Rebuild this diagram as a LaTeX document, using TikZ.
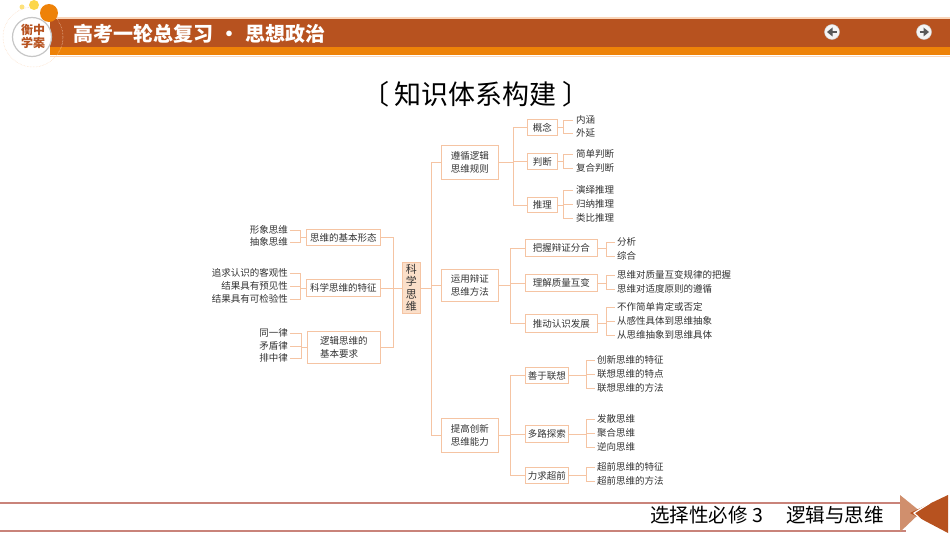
\documentclass[tikz,border=0pt]{standalone}
\usepackage{fontspec}
\setmainfont{Noto Sans CJK SC}
\usepackage{xcolor}
\definecolor{bandbrown}{HTML}{B7521F}
\definecolor{bandorange}{HTML}{EE8208}
\definecolor{bandlight}{HTML}{FAD6BA}
\definecolor{linkc}{HTML}{F5C4A3}
\definecolor{centerc}{HTML}{FBDFC9}
\definecolor{textc}{HTML}{333333}
\definecolor{footc}{HTML}{C9837A}
\tikzset{
 box/.style={draw=linkc,line width=0.9pt,inner sep=0pt,anchor=north west,text=textc,font=\fontsize{9.5}{13.5}\selectfont,align=center},
 leafl/.style={anchor=west,inner sep=0pt,text=textc,font=\fontsize{9.5}{11}\selectfont},
 leafr/.style={anchor=east,inner sep=0pt,text=textc,font=\fontsize{9.5}{11}\selectfont},
 link/.style={draw=linkc,line width=0.9pt},
}
\newcommand{\boxat}[6]{% name, x1, y1, x2, y2, text
 \pgfmathsetmacro{\bw}{#4-#2}\pgfmathsetmacro{\bh}{#5-#3}
 \node[box,minimum width=\bw pt,minimum height=\bh pt] (#1) at (#2,#3) {#6};
}
\begin{document}
\begin{tikzpicture}[x=1pt,y=-1pt]
\useasboundingbox (0,0) rectangle (950,535);

%header
\fill[bandlight] (50,17) rectangle (950,19);
\fill[bandbrown] (50,19) rectangle (950,47);
\fill[bandorange] (50,47) rectangle (950,55);
\fill[bandlight] (50,56) rectangle (950,57.5);
\draw[bandlight,densely dotted,line width=0.5pt] (33,37) circle (30);
\fill[bandorange] (49,13) circle (9);
\fill[yellow!60!orange!70] (34,5) circle (5);
\fill[yellow!60!orange!50] (22,7) circle (2.5);
\draw[gray!45,fill=white,line width=1.2pt] (32,37) circle (19.5);
\node[inner sep=0pt,align=center,text=bandbrown,font=\fontsize{12}{13}\selectfont\bfseries] (logo) at (33,36) {衡中\\学案};
\node[inner sep=0pt,anchor=west,text=white,font=\fontsize{20}{22}\selectfont\bfseries] (head) at (73,34) {高考一轮总复习\hspace{0.3em}·\hspace{0.3em}思想政治};
\foreach \x/\d in {832/-1,924/1} {
 \draw[gray!40,fill=gray!8] (\x,32) circle (7.5);
 \draw[gray!70!black,line width=1.6pt] (\x-\d*4.5,32) -- (\x+\d*3,32);
 \fill[gray!70!black] (\x-\d*0.5,27.5) -- (\x+\d*5,32) -- (\x-\d*0.5,36.5) -- cycle;
}

%title
\node[inner sep=0pt,font=\fontsize{27}{29}\selectfont] (title) at (476,94) {〔\hspace{0.2em}知识体系构建\hspace{0.2em}〕};

%footer
\draw[footc,line width=1.2pt] (0,503) -- (906,503);
\draw[footc,line width=1.8pt] (0,531) -- (906,531);
\node[inner sep=0pt,anchor=west,text=black,font=\fontsize{19.5}{21}\selectfont] (foot) at (650,515) {选择性必修 3\hspace{1.2em}逻辑与思维};
\fill[bandbrown!65!white] (900,495) -- (921,512) -- (900,532) -- cycle;
\fill[bandbrown] (948,495) -- (910,513) -- (948,533) -- cycle;
\draw[white,line width=1.2pt] (930,503) -- (914,513) -- (932,530);

%center
\node[box,fill=centerc,minimum width=18pt,minimum height=51pt,font=\fontsize{11}{12.4}\selectfont] (kxsw) at (402,262) {科\\学\\思\\维};

%left side
\boxat{xt}{306}{229}{380}{245}{思维的基本形态}
\boxat{tz}{306}{279}{380}{296}{科学思维的特征}
\boxat{yq}{307}{331}{380}{363}{逻辑思维的\\基本要求\phantom{的}}
\foreach \b in {xt,tz,yq} \draw[link] (kxsw.west) -- ++(-9,0) |- (\b.east);

\node[leafr] (xt1) at (288,230) {形象思维};
\node[leafr] (xt2) at (288,242) {抽象思维};
\node[leafr] (tz1) at (288,273) {追求认识的客观性};
\node[leafr] (tz2) at (288,286) {结果具有预见性};
\node[leafr] (tz3) at (288,299) {结果具有可检验性};
\node[leafr] (yq1) at (288,333) {同一律};
\node[leafr] (yq2) at (288,346) {矛盾律};
\node[leafr] (yq3) at (288,358) {排中律};
\foreach \b/\l in {xt/xt1,xt/xt2,tz/tz1,tz/tz2,tz/tz3,yq/yq1,yq/yq2,yq/yq3}
 \draw[link] (\b.west) -- ++(-6,0) |- ([xshift=1.5pt]\l.east);

%right side
\boxat{gz}{441}{145}{498}{179}{遵循逻辑\\思维规则}
\boxat{ff}{441}{269}{498}{301}{运用辩证\\思维方法}
\boxat{nl}{441}{418}{498}{452}{提高创新\\思维能力}
\foreach \b in {gz,ff,nl} \draw[link] (kxsw.east) -- ++(10.5,0) |- (\b.west);

\boxat{gn}{527}{119}{557}{135}{概念}
\boxat{pd}{527}{153}{557}{169}{判断}
\boxat{tl}{527}{197}{557}{212}{推理}
\foreach \b in {gn,pd,tl} \draw[link] (gz.east) -- ++(15,0) |- (\b.west);

\boxat{bw}{525}{239}{597}{256}{把握辩证分合}
\boxat{lj}{525}{274}{597}{291}{理解质量互变}
\boxat{td}{525}{314}{597}{332}{推动认识发展}
\foreach \b in {bw,lj,td} \draw[link] (ff.east) -- ++(12,0) |- (\b.west);

\boxat{sy}{525}{367}{568}{383}{善于联想}
\boxat{dl}{525}{425}{568}{442}{多路探索}
\boxat{lq}{525}{467}{568}{483}{力求超前}
\foreach \b in {sy,dl,lq} \draw[link] (nl.east) -- ++(12,0) |- (\b.west);

\foreach \n/\x/\y/\t in {
 gn1/576/120/内涵,gn2/576/133/外延,
 pd1/576/154/简单判断,pd2/576/168/复合判断,
 tl1/576/190/演绎推理,tl2/576/204/归纳推理,tl3/576/218/类比推理,
 bw1/617/242/分析,bw2/617/256/综合,
 lj1/617/275/思维对质量互变规律的把握,lj2/617/289/思维对适度原则的遵循,
 td1/617/307/不作简单肯定或否定,td2/617/321/从感性具体到思维抽象,td3/617/335/从思维抽象到思维具体,
 sy1/597/360/创新思维的特征,sy2/597/374/联想思维的特点,sy3/597/388/联想思维的方法,
 dl1/597/419/发散思维,dl2/597/433/聚合思维,dl3/597/447/逆向思维,
 lq1/597/467/超前思维的特征,lq2/597/481/超前思维的方法}
 \node[leafl] (\n) at (\x,\y) {\t};

\foreach \b/\l in {gn/gn1,gn/gn2,pd/pd1,pd/pd2,tl/tl1,tl/tl2,tl/tl3}
 \draw[link] (\b.east) -- ++(6,0) |- ([xshift=-3pt]\l.west);
\foreach \b/\l in {bw/bw1,bw/bw2,lj/lj1,lj/lj2,td/td1,td/td2,td/td3}
 \draw[link] (\b.east) -- ++(9,0) |- ([xshift=-2pt]\l.west);
\foreach \b/\l in {sy/sy1,sy/sy2,sy/sy3,dl/dl1,dl/dl2,dl/dl3,lq/lq1,lq/lq2}
 \draw[link] (\b.east) -- ++(18,0) |- ([xshift=-2pt]\l.west);

\end{tikzpicture}
\end{document}
